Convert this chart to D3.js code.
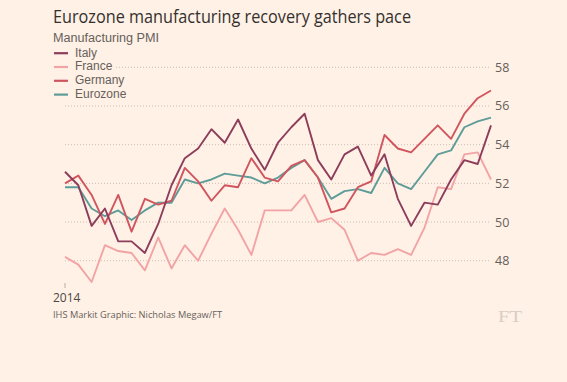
<!DOCTYPE html>
<html><head><meta charset="utf-8">
<script src="https://cdn.jsdelivr.net/npm/d3@7"></script>
<style>
html,body{margin:0;padding:0;background:#fff1e5;}
svg{display:block;}
text{font-family:"Open Sans","Noto Sans",sans-serif;}
</style></head>
<body>
<svg id="chart" width="567" height="382"></svg>
<script>
// Monthly data, Jun 2014 – Feb 2017
const months = d3.range(33);
const italy = [52.6,51.9,49.8,50.7,49.0,49.0,48.4,49.9,51.9,53.3,53.8,54.8,54.1,55.3,53.8,52.7,54.1,54.9,55.6,53.2,52.2,53.5,53.9,52.4,53.5,51.2,49.8,51.0,50.9,52.2,53.2,53.0,55.0];
const france = [48.2,47.8,46.9,48.8,48.5,48.4,47.5,49.2,47.6,48.8,48.0,49.4,50.7,49.6,48.3,50.6,50.6,50.6,51.4,50.0,50.2,49.6,48.0,48.4,48.3,48.6,48.3,49.7,51.8,51.7,53.5,53.6,52.2];
const germany = [52.0,52.4,51.4,49.9,51.4,49.5,51.2,50.9,51.1,52.8,52.1,51.1,51.9,51.8,53.3,52.3,52.1,52.9,53.2,52.3,50.5,50.7,51.8,52.1,54.5,53.8,53.6,54.3,55.0,54.3,55.6,56.4,56.8];
const eurozone = [51.8,51.8,50.7,50.3,50.6,50.1,50.6,51.0,51.0,52.2,52.0,52.2,52.5,52.4,52.3,52.0,52.3,52.8,53.2,52.3,51.2,51.6,51.7,51.5,52.8,52.0,51.7,52.6,53.5,53.7,54.9,55.2,55.4];
const yTicks = [48,50,52,54,56,58];
const xTickLabels = ["2014"];

const series = [
  {name:"Italy", values:italy, color:"#8c3d5c"},
  {name:"France", values:france, color:"#f2a3a6"},
  {name:"Germany", values:germany, color:"#d0555f"},
  {name:"Eurozone", values:eurozone, color:"#5d9c99"}
];

const svg = d3.select("#chart");
const x = d3.scaleLinear().domain([0, months.length-1]).range([65, 491]);
const y = d3.scaleLinear().domain([48, 58]).range([260.7, 67.3]);
const sans2 = "'Liberation Sans','Arimo',sans-serif";

// title
svg.append("text").attr("x",53).attr("y",23).attr("font-size",18.5)
  .attr("fill","#33302e").attr("textLength",358).attr("lengthAdjust","spacingAndGlyphs")
  .text("Eurozone manufacturing recovery gathers pace");
svg.append("text").attr("x",53).attr("y",42.3).attr("font-size",12).style("font-family",sans2)
  .attr("fill","#66605c").attr("textLength",106).attr("lengthAdjust","spacingAndGlyphs")
  .text("Manufacturing PMI");

// grid
const grid = svg.append("g");
yTicks.forEach(t=>{
  grid.append("line").attr("x1",65).attr("x2",489).attr("y1",y(t)).attr("y2",y(t))
    .attr("stroke","#c9bfb6").attr("stroke-width",1).attr("stroke-dasharray","1,2");
});
const yAxis = d3.axisRight(y).tickValues(yTicks).tickSize(0).tickPadding(0);
const ya = svg.append("g").attr("transform","translate(495,0)").call(yAxis);
ya.select(".domain").remove();
ya.selectAll("text").attr("font-size",12.5).attr("fill","#66605c")
  .style("font-family","'Open Sans','Noto Sans',sans-serif");

// x tick
svg.append("line").attr("x1",x(0)).attr("x2",x(0)).attr("y1",283).attr("y2",288)
  .attr("stroke","#b8aea6").attr("stroke-width",1);
svg.append("text").attr("x",53).attr("y",302).attr("font-size",12)
  .attr("fill","#4d4845").text(xTickLabels[0]);

// lines
const line = d3.line().x((d,i)=>x(months[i])).y(d=>y(d));
series.slice().reverse().forEach(s=>{
  svg.append("path").datum(s.values).attr("d",line).attr("fill","none")
    .attr("stroke",s.color).attr("stroke-width",1.9).attr("stroke-linejoin","round");
});

// legend
const lg = svg.append("g");
series.forEach((s,i)=>{
  const cy = 52.2 + i*13.8;
  const g = lg.append("g");
  const rect = g.append("rect").attr("fill","#fff1e5");
  g.append("line").attr("x1",54).attr("x2",68).attr("y1",cy+1).attr("y2",cy+1)
    .attr("stroke",s.color).attr("stroke-width",2.2);
  const t = g.append("text").attr("x",75).attr("y",cy).attr("dy","0.36em")
    .attr("font-size",12).style("font-family",sans2).attr("fill","#66605c").text(s.name);
  const bb = t.node().getBBox();
  rect.attr("x",53).attr("y",cy-6).attr("width",bb.x+bb.width-53+2).attr("height",12);
});

// footer
svg.append("text").attr("x",53).attr("y",318).attr("font-size",9.5)
  .attr("fill","#66605c").attr("textLength",169).attr("lengthAdjust","spacingAndGlyphs")
  .text("IHS Markit Graphic: Nicholas Megaw/FT");
svg.append("text").attr("x",498).attr("y",322).attr("font-size",17)
  .attr("fill","#d8cec5").style("font-family","'Liberation Serif','DejaVu Serif',serif")
  .attr("textLength",24).attr("lengthAdjust","spacingAndGlyphs").text("FT");
</script>
</body></html>
